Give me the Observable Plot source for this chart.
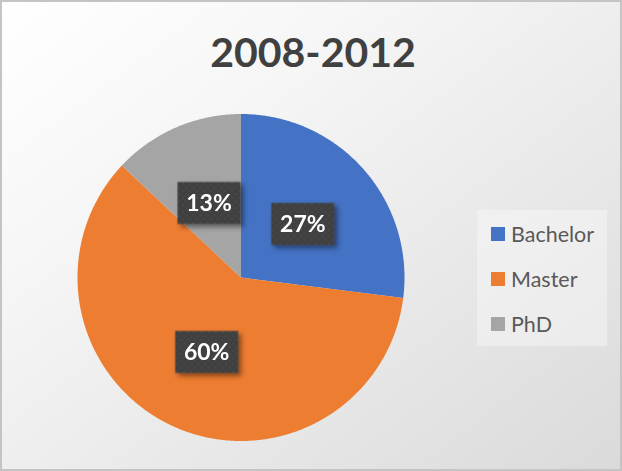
<!DOCTYPE html>
<html><head><meta charset="utf-8">
<script src="https://cdn.jsdelivr.net/npm/d3@7"></script>
<script src="https://cdn.jsdelivr.net/npm/@observablehq/plot@0.6"></script>
<style>
body{margin:0;background:#fff}
#chart{position:relative;width:622px;height:471px;overflow:hidden;font-family:Lato,"Open Sans",sans-serif;
  background:linear-gradient(to bottom right,#ffffff 0%,#f6f6f6 30%,#e8e8e8 65%,#dadada 100%)}
#chart::after{content:"";position:absolute;inset:0;border:2px solid #c4c4c4;pointer-events:none}
#chart svg{position:absolute;left:0;top:0;background:transparent;overflow:visible}
#title{position:absolute;left:0;width:626px;top:27px;text-align:center;font-weight:700;font-size:41px;line-height:1.2;color:#404040;white-space:nowrap}
#legend{position:absolute;left:477px;top:210px;width:130px;height:136px;background:rgba(255,255,255,0.35)}
.item{position:absolute;left:14px;height:16px;display:flex;align-items:center;white-space:nowrap}
.sw{width:14px;height:14px;margin-right:6px}
.lab{font-size:21.5px;color:#595959;line-height:16px;position:relative;top:0px}
</style></head>
<body>
<div id="chart"><div id="title">2008-2012</div><div id="legend"></div></div>
<script>
const title = "2008-2012";
const categories = ["Bachelor", "Master", "PhD"];
const shares = [27, 60, 13];
const colors = ["#4472C4", "#ED7D31", "#A5A5A5"];

// slice geometry derived from shares
const pie = d3.pie().sort(null).startAngle(0).endAngle(2 * Math.PI)(shares);
const arcPts = [];
const labels = [];
pie.forEach((p, i) => {
  const n = Math.max(2, Math.ceil((p.endAngle - p.startAngle) / (Math.PI / 360)));
  for (let k = 0; k <= n; k++) {
    const a = p.startAngle + (p.endAngle - p.startAngle) * k / n;
    arcPts.push({cat: categories[i], x: Math.sin(a), y: Math.cos(a)});
  }
  const m = (p.startAngle + p.endAngle) / 2;
  labels.push({cat: categories[i], x: 0.5 * Math.sin(m), y: 0.5 * Math.cos(m), text: shares[i] + "%"});
});

const box = {draw(ctx) { ctx.rect(-31.5, -21, 63, 42); }};

const svg = Plot.plot({
  width: 622, height: 471,
  marginLeft: 77.5, marginRight: 217.5, marginTop: 114, marginBottom: 30,
  x: {domain: [-1, 1], axis: null},
  y: {domain: [-1, 1], axis: null},
  color: {domain: categories, range: colors},
  style: {background: "transparent"},
  marks: [
    Plot.area(arcPts, {x1: "x", y1: "y", x2: 0, y2: 0, z: "cat", fill: "cat", curve: "linear"}),
    Plot.dot(labels, {x: "x", y: "y", symbol: box, fill: "#404040", stroke: "none", r: 10}),
    Plot.text(labels, {x: "x", y: "y", text: "text", fill: "white", fontWeight: 700, fontSize: 23, fontFamily: "Lato", dy: 1})
  ]
});
document.getElementById("chart").appendChild(svg);

const s = d3.select(svg);
const defs = s.insert("defs", ":first-child");
const pat = defs.append("pattern").attr("id", "dots").attr("patternUnits", "userSpaceOnUse").attr("width", 7).attr("height", 7);
pat.append("rect").attr("width", 7).attr("height", 7).attr("fill", "#3f3f3f");
pat.append("rect").attr("x", 1).attr("y", 1).attr("width", 2).attr("height", 2).attr("fill", "#4c4c4c");
pat.append("rect").attr("x", 4.5).attr("y", 4.5).attr("width", 2).attr("height", 2).attr("fill", "#4c4c4c");
const f = defs.append("filter").attr("id", "shadow").attr("x", "-30%").attr("y", "-30%").attr("width", "160%").attr("height", "160%");
f.append("feDropShadow").attr("dx", 3).attr("dy", 3).attr("stdDeviation", 2.5).attr("flood-color", "#000").attr("flood-opacity", 0.45);
s.selectAll("g[aria-label=dot]").attr("filter", "url(#shadow)").selectAll("path").attr("fill", "url(#dots)");

const legend = d3.select("#legend");
categories.forEach((c, i) => {
  const it = legend.append("div").attr("class", "item").style("top", (16 + i * 45) + "px");
  it.append("div").attr("class", "sw").style("background", colors[i]);
  it.append("div").attr("class", "lab").text(c);
});
</script>
</body></html>
